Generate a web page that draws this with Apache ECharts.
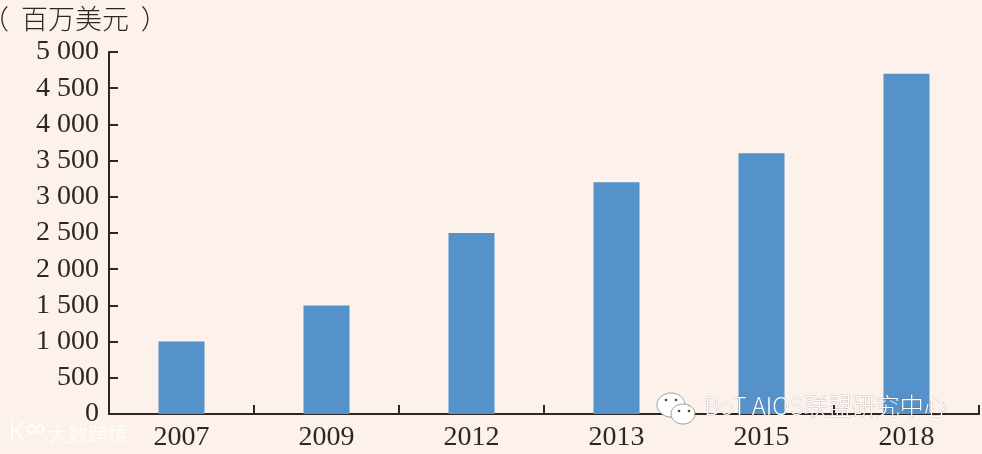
<!DOCTYPE html>
<html>
<head>
<meta charset="utf-8">
<style>html,body{margin:0;padding:0;background:#fdf1ec}#c{width:982px;height:454px}</style>
<script src="https://cdn.jsdelivr.net/npm/echarts@6/dist/echarts.min.js"></script>
</head>
<body>
<div id="c"></div>
<script>
const categories = ['2007', '2009', '2012', '2013', '2015', '2018'];
const values = [1000, 1500, 2500, 3200, 3600, 4700];
const unitLabel = '（  百万美元  ）';
const watermarkRight = 'BoT AIOS联盟研究中心';
const watermarkLeft = '大数跨境';
const ink = '#2f2624';
const serif = '"Liberation Serif", serif';
const bubble = { fill: '#ffffff', stroke: '#777777', lineWidth: 0.7 };
const dot = { fill: '#444444' };
const logoLine = { fill: 'none', stroke: '#ffffff', lineWidth: 2 };
const markShadow = { shadowColor: 'rgba(40,30,30,0.9)', shadowBlur: 1, shadowOffsetX: 0.8, shadowOffsetY: 0.8 };
const softShadow = { shadowColor: 'rgba(90,80,80,0.65)', shadowBlur: 1, shadowOffsetX: 0.6, shadowOffsetY: 0.6 };

const chart = echarts.init(document.getElementById('c'), null, { renderer: 'canvas' });
chart.setOption({
  backgroundColor: '#fdf1ec',
  animation: false,
  title: {
    text: unitLabel, left: -23, top: 0,
    textStyle: { fontFamily: '"Noto Sans CJK SC"', fontWeight: 300, fontSize: 27, color: ink }
  },
  grid: { left: 109, right: 3, top: 52, bottom: 40, containLabel: false },
  xAxis: {
    type: 'category',
    data: categories,
    axisLine: { show: true, lineStyle: { color: ink, width: 2 } },
    axisTick: { show: true, inside: true, length: 9, lineStyle: { color: ink, width: 2 } },
    axisLabel: { color: ink, fontFamily: serif, fontSize: 28, margin: 10, interval: 0 }
  },
  yAxis: {
    type: 'value', min: 0, max: 5000, interval: 500,
    splitLine: { show: false },
    axisLine: { show: true, lineStyle: { color: ink, width: 2 } },
    axisTick: { show: true, inside: true, length: 9, lineStyle: { color: ink, width: 2 } },
    axisLabel: {
      color: ink, fontFamily: serif, fontSize: 28, margin: 10, padding: [3, 0, 0, 0],
      formatter: v => v >= 1000 ? Math.floor(v / 1000) + ' ' + String(v % 1000).padStart(3, '0') : String(v)
    }
  },
  series: [{
    type: 'bar',
    data: values,
    barWidth: 46,
    itemStyle: { color: '#5592c9' }
  }],
  graphic: [
    { type: 'text', left: 704, top: 394, z: 100, style: Object.assign({
      text: watermarkRight, fontFamily: '"Noto Sans CJK SC"', fontSize: 24, fontWeight: 300,
      fill: '#ffffff', stroke: 'rgba(70,60,60,0.45)', lineWidth: 0.5 }, markShadow) },
    { type: 'ellipse', shape: { cx: 671, cy: 405, rx: 14, ry: 12 }, z: 100, style: bubble },
    { type: 'ellipse', shape: { cx: 683, cy: 414, rx: 12, ry: 10 }, z: 101, style: bubble },
    { type: 'circle', shape: { cx: 666, cy: 400, r: 1.3 }, z: 102, style: dot },
    { type: 'circle', shape: { cx: 676, cy: 400, r: 1.3 }, z: 102, style: dot },
    { type: 'circle', shape: { cx: 679, cy: 411, r: 1.3 }, z: 102, style: dot },
    { type: 'circle', shape: { cx: 689, cy: 411, r: 1.3 }, z: 102, style: dot },
    { type: 'text', left: 48, top: 424, z: 100, style: Object.assign({
      text: watermarkLeft, fontFamily: '"Noto Sans CJK SC"', fontSize: 20, fontWeight: 300,
      fill: '#ffffff' }, softShadow) },
    { type: 'text', left: 9, top: 420, z: 100, style: Object.assign({
      text: 'K', fontFamily: '"Noto Sans"', fontSize: 26, fontWeight: 300,
      fill: '#ffffff' }, softShadow) },
    { type: 'circle', shape: { cx: 31, cy: 429, r: 3.5 }, z: 100, style: logoLine },
    { type: 'circle', shape: { cx: 40, cy: 429, r: 3.5 }, z: 100, style: logoLine }
  ]
});
</script>
</body>
</html>
